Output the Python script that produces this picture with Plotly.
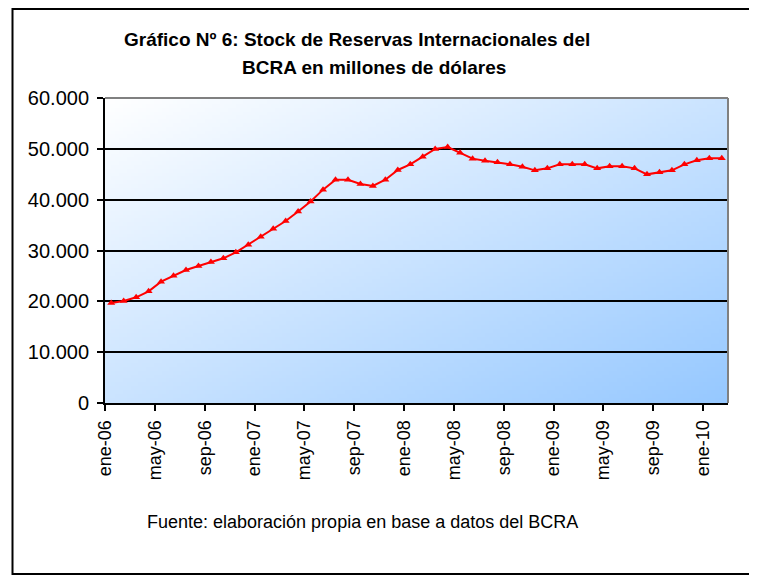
import base64, struct, zlib
import plotly.graph_objects as go

# ---------------- data ----------------
months = ["ene", "feb", "mar", "abr", "may", "jun", "jul", "ago", "sep", "oct", "nov", "dic"]
categories = [f"{months[i % 12]}-{6 + i // 12:02d}" for i in range(50)]  # ene-06 .. feb-10
reservas = [
    19670, 20070, 20790, 21970, 23870, 25050, 26160, 26950, 27740, 28460,
    29640, 31150, 32720, 34300, 35800, 37670, 39640, 41970, 43930, 43930,
    43080, 42690, 43930, 45840, 46950, 48460, 49970, 50360, 49250, 48070,
    47670, 47340, 46950, 46490, 45770, 46160, 46950, 46950, 46950, 46160,
    46560, 46560, 46160, 44980, 45380, 45770, 46950, 47740, 48130, 48130,
]
tick_labels = categories[::4]
y_ticks = [0, 10000, 20000, 30000, 40000, 50000, 60000]

# ---------------- geometry (page body has an 8px margin) ----------------
OFF = 8
W, H = 757 - OFF, 575 - OFF
L, T = 105 - OFF, 98 - OFF
R = W - (728 - OFF)
B = H - (402.7 - OFF)
pw, ph = W - L - R, H - T - B

def px(x):  # screenshot x -> paper
    return (x - OFF - L) / pw

def py(y):  # screenshot y -> paper
    return (H - B - (y - OFF)) / ph

# ---------------- gradient background (PNG) ----------------
def gradient_png(w=160, h=80, c0=(255, 255, 255), c1=(150, 200, 255)):
    raw = b""
    for j in range(h):
        row = bytearray([0])
        v = j / (h - 1)
        for i in range(w):
            u = i / (w - 1)
            t = (u + v) / 2
            row += bytes(int(round(c0[k] * (1 - t) + c1[k] * t)) for k in range(3))
        raw += bytes(row)
    def chunk(tag, data):
        c = struct.pack(">I", len(data)) + tag + data
        return c + struct.pack(">I", zlib.crc32(tag + data) & 0xFFFFFFFF)
    png = b"\x89PNG\r\n\x1a\n"
    png += chunk(b"IHDR", struct.pack(">IIBBBBB", w, h, 8, 2, 0, 0, 0))
    png += chunk(b"IDAT", zlib.compress(raw, 9))
    png += chunk(b"IEND", b"")
    return "data:image/png;base64," + base64.b64encode(png).decode()

x_idx = list(range(len(categories)))

fig = go.Figure()
fig.add_trace(go.Scatter(
    x=x_idx, y=reservas, mode="lines+markers",
    line=dict(color="#FF0000", width=2),
    marker=dict(symbol="triangle-up", size=7, color="#FF0000"),
    hoverinfo="skip", showlegend=False,
))

font_family = "Liberation Sans, Arial, sans-serif"

fig.update_layout(
    width=W, height=H,
    margin=dict(l=L, r=R, t=T, b=B, autoexpand=False),
    paper_bgcolor="white",
    plot_bgcolor="rgba(0,0,0,0)",
    separators=",.",
    font=dict(family=font_family, color="black"),
    xaxis=dict(
        range=[-0.5, len(categories) - 0.5],
        tickvals=[i * 4 - 0.5 for i in range(len(tick_labels))],
        ticktext=tick_labels,
        tickangle=-90,
        tickfont=dict(size=18, family=font_family),
        ticks="outside", ticklen=6, tickwidth=1.5, tickcolor="black",
        ticklabelstandoff=2,
        showline=True, linecolor="black", linewidth=2,
        showgrid=False, zeroline=False,
    ),
    yaxis=dict(
        range=[0, 60000],
        tickvals=y_ticks,
        tickformat=",d",
        tickfont=dict(size=20, family=font_family),
        ticks="outside", ticklen=6, tickwidth=1.5, tickcolor="black",
        ticklabelstandoff=4,
        showline=True, linecolor="black", linewidth=2,
        showgrid=True, gridcolor="black", gridwidth=1.5,
        zeroline=False,
    ),
    images=[dict(
        source=gradient_png(), xref="x domain", yref="y domain",
        x=0, y=1, sizex=1, sizey=1, sizing="stretch",
        xanchor="left", yanchor="top", layer="below",
    )],
    shapes=[
        # plot area top/right border (gray)
        dict(type="line", xref="paper", yref="paper", x0=0, x1=1, y0=1, y1=1,
             line=dict(color="#808080", width=2), layer="above"),
        dict(type="line", xref="paper", yref="paper", x0=1, x1=1, y0=0, y1=1,
             line=dict(color="#808080", width=2), layer="above"),
        # outer chart border
        dict(type="rect", xref="paper", yref="paper",
             x0=px(12.5), x1=px(756), y0=py(573.5), y1=py(9),
             line=dict(color="black", width=2), fillcolor="rgba(0,0,0,0)", layer="above"),
    ],
    annotations=[
        dict(text="<b>Gráfico Nº 6: Stock de Reservas Internacionales del</b>",
             xref="paper", yref="paper", x=px(357), y=py(40),
             xanchor="center", yanchor="middle", showarrow=False,
             font=dict(size=19, family=font_family)),
        dict(text="<b>BCRA en millones de dólares</b>",
             xref="paper", yref="paper", x=px(374), y=py(68),
             xanchor="center", yanchor="middle", showarrow=False,
             font=dict(size=19, family=font_family)),
        dict(text="Fuente: elaboración propia en base a datos del BCRA",
             xref="paper", yref="paper", x=px(145), y=py(522),
             xanchor="left", yanchor="middle", showarrow=False,
             font=dict(size=18, family=font_family)),
    ],
)

fig.write_html("out.html")
